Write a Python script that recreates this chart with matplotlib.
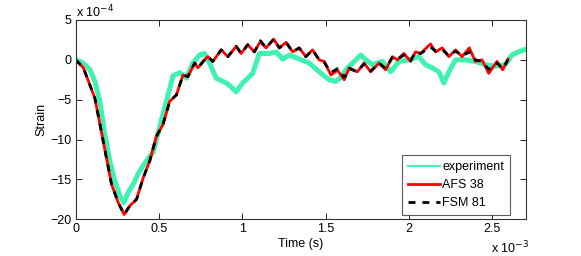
import numpy as np
import matplotlib.pyplot as plt

# time in units of 1e-3 s, strain in units of 1e-4
t_exp = [0.0, 0.026, 0.056, 0.086, 0.115, 0.145, 0.175, 0.205, 0.235, 0.265,
         0.289, 0.315, 0.345, 0.375, 0.404, 0.434, 0.464, 0.504, 0.544, 0.584,
         0.624, 0.664, 0.703, 0.743, 0.773, 0.803, 0.843, 0.873, 0.903, 0.933,
         0.963, 1.002, 1.032, 1.062, 1.102, 1.162, 1.202, 1.242, 1.282, 1.342,
         1.401, 1.461, 1.521, 1.561, 1.591, 1.621, 1.671, 1.710, 1.740, 1.780,
         1.840, 1.890, 1.940, 2.0, 2.059, 2.099, 2.139, 2.179, 2.209, 2.239,
         2.279, 2.338, 2.398, 2.458, 2.518, 2.578, 2.617, 2.657, 2.69]
s_exp = [0.0, -0.2, -0.6, -1.25, -2.7, -5.2, -9.4, -12.7, -15.2, -17.1,
         -17.9, -16.6, -15.6, -14.3, -13.3, -12.4, -11.6, -8.4, -5.2, -2.0,
         -1.6, -2.3, -0.4, 0.6, 0.8, -0.4, -2.3, -2.6, -2.9, -3.4,
         -4.0, -2.9, -2.3, -1.7, 0.8, 0.8, 1.0, 0.1, 0.6, 0.1,
         -0.4, -1.5, -2.5, -2.7, -2.2, -1.25, -0.2, 0.6, 0.0, -0.6,
         -0.2, -1.5, -0.2, 0.0, 0.4, -0.6, -1.0, -1.5, -2.9, -1.5,
         0.0, 0.0, -0.2, -0.6, -0.8, -0.6, 0.6, 1.0, 1.25]

t_sim = [0.0, 0.046, 0.115, 0.165, 0.215, 0.255, 0.291, 0.325, 0.365, 0.405,
         0.444, 0.484, 0.524, 0.564, 0.604, 0.644, 0.673, 0.714, 0.733, 0.773,
         0.793, 0.823, 0.873, 0.913, 0.963, 0.993, 1.032, 1.072, 1.108, 1.142,
         1.188, 1.222, 1.262, 1.302, 1.341, 1.381, 1.421, 1.461, 1.491, 1.531,
         1.571, 1.611, 1.641, 1.690, 1.730, 1.770, 1.820, 1.860, 1.900, 1.930,
         1.969, 2.009, 2.039, 2.069, 2.129, 2.159, 2.199, 2.239, 2.279, 2.318,
         2.362, 2.398, 2.438, 2.478, 2.528, 2.562, 2.594]
s_afs = [0.0, -1.0, -4.8, -10.2, -15.6, -17.9, -19.4, -18.3, -17.5, -14.8,
         -12.7, -9.6, -8.1, -5.2, -4.4, -1.9, -2.1, -0.4, -1.0, 0.0,
         0.4, -0.2, 1.25, 0.4, 1.7, 0.8, 1.9, 1.0, 2.3, 1.5,
         2.6, 1.5, 2.2, 1.0, 1.5, 0.4, 1.25, 0.0, -0.2, -1.9,
         -1.3, -2.5, -1.0, -1.5, -0.4, -1.5, -0.4, -1.25, 0.4, 0.0,
         0.8, -0.2, 1.0, 0.8, 2.0, 1.0, 1.5, 0.4, 1.25, 0.4,
         1.5, -0.2, 0.0, -1.7, -0.2, -1.25, 0.1]
s_fsm = [0.0, -1.0, -4.8, -10.2, -15.6, -17.9, -19.4, -18.3, -17.5, -14.8,
         -12.7, -9.6, -8.1, -5.2, -4.4, -1.9, -2.1, -0.4, -1.0, 0.0,
         0.4, -0.2, 1.25, 0.4, 1.7, 0.8, 1.9, 1.0, 2.4, 1.5,
         2.6, 1.5, 2.2, 1.0, 1.5, 0.4, 1.25, 0.0, -0.3, -1.6,
         -1.1, -2.2, -1.1, -1.5, -0.5, -1.4, -0.4, -1.1, 0.3, 0.1,
         0.6, -0.1, 1.0, 0.8, 1.6, 1.1, 1.3, 0.5, 1.1, 0.5,
         1.0, 0.0, -0.2, -1.2, -0.4, -1.1, 0.0]

plt.rcParams['font.family'] = ['Liberation Sans', 'DejaVu Sans']
plt.rcParams['font.size'] = 9

fig = plt.figure(figsize=(5.81, 2.56), dpi=100)
ax = fig.add_axes([75.7 / 581, 1 - 219.3 / 256, 450 / 581, 199.3 / 256])

ax.plot(t_exp, s_exp, color='#40F2B0', lw=3.6, label='experiment',
        solid_joinstyle='round')
ax.plot(t_sim, s_afs, color='#FF0000', lw=2, label='AFS 38',
        solid_joinstyle='round')
ax.plot(t_sim, s_fsm, color='black', lw=2, ls=(0, (2.5, 2.5)), label='FSM 81')

ax.set_xlim(0, 2.7)
ax.set_ylim(-20, 5)
ax.set_xticks([0, 0.5, 1, 1.5, 2, 2.5])
ax.set_xticklabels(['0', '0.5', '1', '1.5', '2', '2.5'])
ax.set_yticks([-20, -15, -10, -5, 0, 5])
ax.set_yticklabels(['\u221220', '\u221215', '\u221210', '\u22125', '0', '5'])
ax.tick_params(direction='in', top=True, right=True, length=4, width=0.6,
               colors='black', labelsize=9, pad=3)
for sp in ax.spines.values():
    sp.set_linewidth(0.8)
    sp.set_color('#333333')

ax.set_xlabel('Time (s)', fontsize=9, labelpad=2)
ax.set_ylabel('Strain', fontsize=9, labelpad=2)

fig.text(76 / 581, 1 - 12 / 256, r'x 10$^{-4}$', fontsize=9, va='center', ha='left')
fig.text(491 / 581, 1 - 248 / 256, r'x 10$^{-3}$', fontsize=9, va='center', ha='left')

leg = ax.legend(loc='lower right', bbox_to_anchor=(510 / 581, 1 - 215 / 256),
                bbox_transform=fig.transFigure, fancybox=False, frameon=True,
                edgecolor='#333333', fontsize=9, handlelength=2.6,
                handletextpad=0.2, borderpad=0.45, labelspacing=0.5,
                borderaxespad=0)
leg.get_frame().set_linewidth(0.8)
leg.get_lines()[0].set_linewidth(1.5)

fig.savefig('out.png', dpi=100)
